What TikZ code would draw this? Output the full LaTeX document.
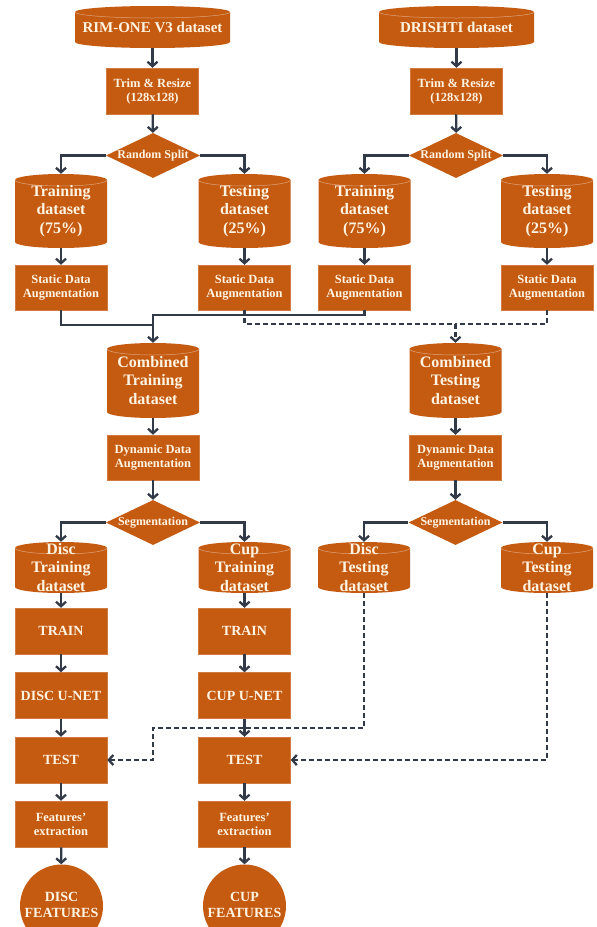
\documentclass[tikz,border=0pt]{standalone}
\usepackage{fontspec}
\setmainfont{Liberation Serif}
\usetikzlibrary{arrows.meta,shapes.geometric,calc}
\definecolor{brick}{RGB}{197,90,17}
\definecolor{cream}{RGB}{255,244,225}
\definecolor{ink}{RGB}{50,58,72}

% cap half-height of the database drums
\def\capr{6}
% database drum: name, centre x, centre y (down from top), width, height, text
\newcommand\drum[6]{%
  \fill[brick] ({#2-#4/2},{-#3+#5/2-\capr})
     arc[start angle=180,end angle=0,x radius={#4*0.5pt},y radius={\capr*1pt}]
     -- ({#2+#4/2},{-#3-#5/2+\capr})
     arc[start angle=0,end angle=-180,x radius={#4*0.5pt},y radius={\capr*1pt}] -- cycle;
  \draw[rimline] ({#2-#4/2},{-#3+#5/2-\capr})
     arc[start angle=180,end angle=360,x radius={#4*0.5pt},y radius={\capr*1pt}];
  \node[drumtext, minimum width=#4, minimum height=#5] (#1) at (#2,-#3) {#6};
}

\tikzset{
  rimline/.style={draw=brick!55!white, line width=0.5pt},
  drumtext/.style={inner sep=0pt, text=cream, align=center,
    font=\fontsize{16}{18.5}\selectfont\bfseries},
  small/.style={font=\fontsize{12.5}{14}\selectfont\bfseries},
  big/.style={font=\fontsize{14}{16}\selectfont\bfseries},
  procbox/.style={rectangle, fill=brick, draw=brick!80!white, line width=0.5pt,
    text=cream, align=center, minimum width=92, minimum height=46, inner sep=1pt},
  splitter/.style={diamond, aspect=2.1, fill=brick, text=cream, inner sep=0pt,
    minimum width=94, minimum height=45, font=\fontsize{12}{14}\selectfont\bfseries},
  result/.style={circle, fill=brick, text=cream, minimum size=83, inner sep=0pt,
    align=center, font=\fontsize{14}{17}\selectfont\bfseries},
  arr/.style={draw=ink, line width=2.3pt, -{Straight Barb[length=4.5pt,width=10pt]}},
  link/.style={draw=ink, line width=2.3pt},
  darr/.style={arr, dash pattern=on 5pt off 3pt},
  dlink/.style={link, dash pattern=on 5pt off 3pt},
}

\begin{document}
\begin{tikzpicture}[x=1pt,y=1pt]
\useasboundingbox (0,0) rectangle (597,-927);
\fill[white] (0,0) rectangle (597,-927);

% ---------- sources ----------
\drum{rim}{152.5}{27}{155}{42}{\fontsize{15}{17}\selectfont RIM-ONE V3 dataset}
\drum{dri}{456.5}{27}{155}{42}{\fontsize{15}{17}\selectfont DRISHTI dataset}

\node[procbox, small] (trimA) at (152.5,-91) {Trim \& Resize\\(128x128)};
\node[procbox, small] (trimB) at (456.5,-91) {Trim \& Resize\\(128x128)};

\node[splitter] (splitA) at (153,-155.5) {Random Split};
\node[splitter] (splitB) at (456,-155.5) {Random Split};

\drum{trA}{61}{211}{92}{74}{Training\\dataset\\(75\%)}
\drum{teA}{244.5}{211}{92}{74}{Testing\\dataset\\(25\%)}
\drum{trB}{364.5}{211}{92}{74}{Training\\dataset\\(75\%)}
\drum{teB}{547}{211}{92}{74}{Testing\\dataset\\(25\%)}

\node[procbox, small, minimum height=45] (sdaA) at (61,-287.5) {Static Data\\Augmentation};
\node[procbox, small, minimum height=45] (sdaB) at (244.5,-287.5) {Static Data\\Augmentation};
\node[procbox, small, minimum height=45] (sdaC) at (364.5,-287.5) {Static Data\\Augmentation};
\node[procbox, small, minimum height=45] (sdaD) at (547,-287.5) {Static Data\\Augmentation};

% ---------- combined sets ----------
\drum{combTr}{153}{380.5}{92}{75}{Combined\\Training\\dataset}
\drum{combTe}{455.5}{380.5}{92}{75}{Combined\\Testing\\dataset}

\node[procbox, small, minimum height=45] (dynA) at (153,-457.5) {Dynamic Data\\Augmentation};
\node[procbox, small, minimum height=45] (dynB) at (455.5,-457.5) {Dynamic Data\\Augmentation};

\node[splitter] (segA) at (153,-522.5) {Segmentation};
\node[splitter] (segB) at (455.5,-522.5) {Segmentation};

\drum{discTr}{61}{567.5}{92}{51}{Disc\\Training\\dataset}
\drum{cupTr}{244.5}{567.5}{92}{51}{Cup\\Training\\dataset}
\drum{discTe}{364}{567.5}{92}{51}{Disc\\Testing\\dataset}
\drum{cupTe}{547}{567.5}{92}{51}{Cup\\Testing\\dataset}

% ---------- networks ----------
\node[procbox, big] (trainD) at (61,-631) {TRAIN};
\node[procbox, big] (trainC) at (244.5,-631) {TRAIN};
\node[procbox, big] (unetD) at (61,-695.5) {DISC U-NET};
\node[procbox, big] (unetC) at (244.5,-695.5) {CUP U-NET};
\node[procbox, big] (testD) at (61,-760) {TEST};
\node[procbox, big] (testC) at (244.5,-760) {TEST};
\node[procbox, small] (featD) at (61,-824) {Features'\\extraction};
\node[procbox, small] (featC) at (244.5,-824) {Features'\\extraction};
\node[result] (outD) at (61.5,-906) {\raisebox{8pt}{\begin{tabular}{@{}c@{}}DISC\\[-1pt]FEATURES\end{tabular}}};
\node[result] (outC) at (244.5,-906) {\raisebox{8pt}{\begin{tabular}{@{}c@{}}CUP\\[-1pt]FEATURES\end{tabular}}};

% ---------- connectors: preparation ----------
\draw[arr] (rim) -- (trimA);
\draw[arr] (dri) -- (trimB);
\draw[arr] (trimA) -- (splitA);
\draw[arr] (trimB) -- (splitB);
\draw[arr] (splitA.west) -| (trA.north);
\draw[arr] (splitA.east) -| (teA.north);
\draw[arr] (splitB.west) -| (trB.north);
\draw[arr] (splitB.east) -| (teB.north);
\draw[arr] (trA) -- (sdaA);
\draw[arr] (teA) -- (sdaB);
\draw[arr] (trB) -- (sdaC);
\draw[arr] (teB) -- (sdaD);

% training merge
\coordinate (jTr) at (153,-315);
\draw[link] (sdaA.south) |- (153,-325);
\draw[arr] (sdaC.south) |- (jTr) -- (combTr.north);
% testing merge
\coordinate (jTe) at (455.5,-324);
\draw[dlink] (sdaB.south) |- (jTe);
\draw[dlink] (sdaD.south) |- (jTe);
\draw[darr] (jTe) -- (combTe.north);

% ---------- connectors: segmentation ----------
\draw[arr] (combTr) -- (dynA);
\draw[arr] (combTe) -- (dynB);
\draw[arr] (dynA) -- (segA);
\draw[arr] (dynB) -- (segB);
\draw[arr] (segA.west) -| (discTr.north);
\draw[arr] (segA.east) -| (cupTr.north);
\draw[arr] (segB.west) -| (discTe.north);
\draw[arr] (segB.east) -| (cupTe.north);

% ---------- connectors: networks ----------
\draw[arr] (discTr) -- (trainD);
\draw[arr] (cupTr) -- (trainC);
\draw[arr] (trainD) -- (unetD);
\draw[arr] (trainC) -- (unetC);
\draw[arr] (unetD) -- (testD);
\draw[arr] (unetC) -- (testC);
\draw[arr] (testD) -- (featD);
\draw[arr] (testC) -- (featC);
\draw[arr] (featD) -- (outD);
\draw[arr] (featC) -- (outC);

% test sets feeding the TEST stages
\coordinate (kD) at (153,-728);
\draw[darr] (discTe.south) |- (kD) |- (testD.east);
\draw[darr] (cupTe.south) |- (testC.east);
\end{tikzpicture}
\end{document}
